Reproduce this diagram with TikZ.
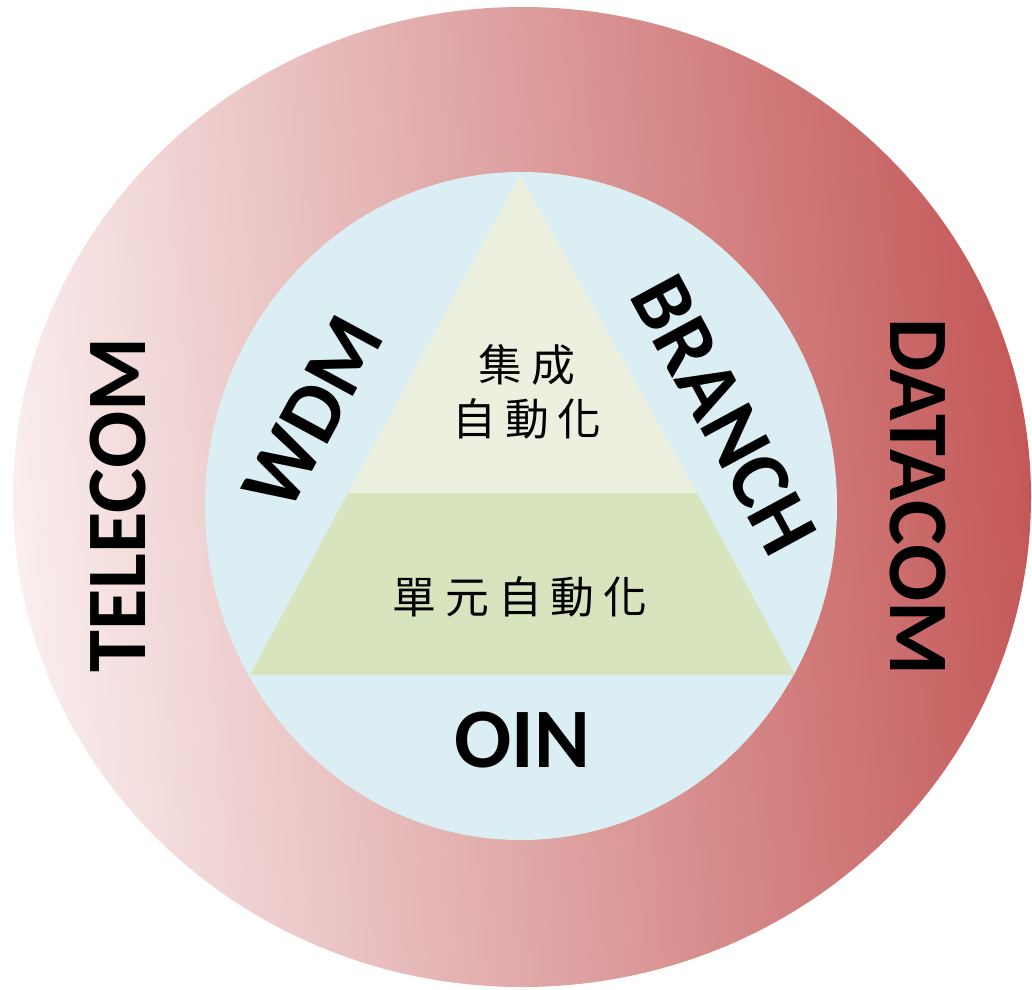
\documentclass[tikz,border=0pt]{standalone}
\usepackage{fontspec}
\newfontfamily\calib{Carlito}
\newfontfamily\cjk{Noto Sans CJK TC}
\definecolor{ringL}{RGB}{250,238,238}
\definecolor{ringR}{RGB}{196,88,88}
\definecolor{innerblue}{RGB}{218,238,243}
\definecolor{tritop}{RGB}{235,241,222}
\definecolor{tribot}{RGB}{215,228,189}
\newcommand{\cs}{\hspace{9pt}}
\tikzset{
  biglabel/.style={font=\calib\bfseries\fontsize{85}{90}\selectfont, text=black, inner sep=0pt},
  cjklabel/.style={font=\cjk\fontsize{44}{54}\selectfont, text=black, align=center, inner sep=0pt}
}
\begin{document}
\begin{tikzpicture}[x=1bp,y=-1bp]
\useasboundingbox (0,0) rectangle (1032,990);
% outer ring
\shade[left color=ringL, right color=ringR, shading angle=95] (522,497) ellipse [x radius=509, y radius=490];
% inner disc
\fill[innerblue] (521,506) ellipse [x radius=316, y radius=334];
% triangle
\coordinate (apex) at (520,175);
\coordinate (bl) at (250,675);
\coordinate (br) at (795,675);
\coordinate (ml) at (348,493);
\coordinate (mr) at (697,493);
\fill[tritop] (apex) -- (mr) -- (ml) -- cycle;
\fill[tribot] (ml) -- (mr) -- (br) -- (bl) -- cycle;
% labels
\node[cjklabel] (top) at (527,392) {集\cs 成\\自\cs 動\cs 化};
\node[cjklabel] (bot) at (520,597) {單\cs 元\cs 自\cs 動\cs 化};
\node[biglabel, rotate=90] (telecom) at (118,505) {TELECOM};
\node[biglabel, rotate=-90] (datacom) at (918,497) {DATACOM};
\node[biglabel, rotate=61.6] (wdm) at (313,413) {WDM};
\node[biglabel, rotate=-61.6] (branch) at (724,415) {BRANCH};
\node[biglabel] (oin) at (522,740) {OIN};
\end{tikzpicture}
\end{document}
